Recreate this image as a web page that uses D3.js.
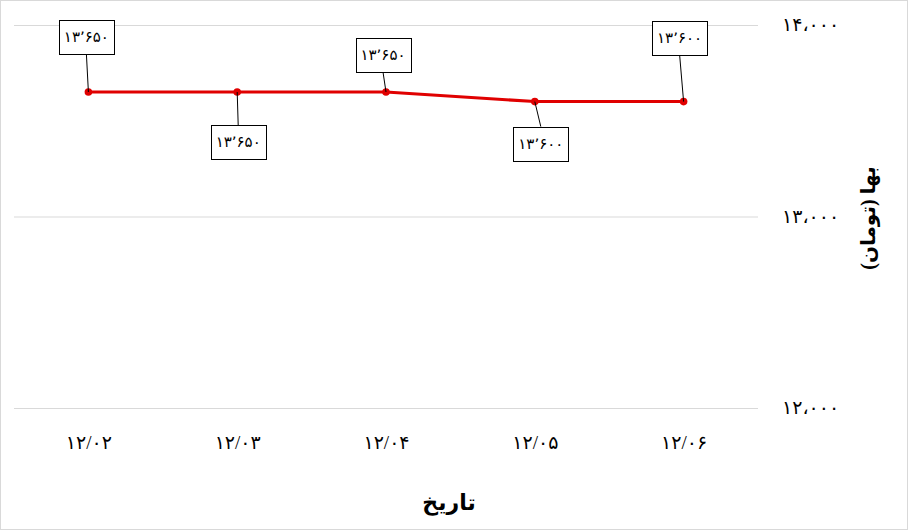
<!DOCTYPE html>
<html>
<head>
<meta charset="utf-8">
<script src="https://cdn.jsdelivr.net/npm/d3@7"></script>
<style>
    body { margin: 0; background: #fff; }
    svg text { font-family: 'B Nazanin', 'Times New Roman', 'Liberation Serif', 'DejaVu Sans', serif; fill: #000; }
</style>
</head>
<body>
<div id="chart"></div>
<script>
// data
var dates = ['12/02', '12/03', '12/04', '12/05', '12/06'];
var prices = [13650, 13650, 13650, 13600, 13600];
var y_ticks = [12000, 13000, 14000];
var y_domain = [12000, 14000];

// label placement (offset of label box centre from its point, px)
var label_dx = [-2, 1, -3, 6, -4];
var label_dy = [-55, 50, -37, 42, -64];

var svg_size = { 'width': 908, 'height': 530 };
var plot = { 'left': 14, 'right': 758, 'top': 25, 'bottom': 408 };
var line_color = '#e00000';

function toFa(s){
    return String(s).replace(/\d/g, function(d){ return '۰۱۲۳۴۵۶۷۸۹'[+d]; });
}

var svg = d3.select('#chart')
    .append('svg')
    .attr('width', svg_size.width)
    .attr('height', svg_size.height);

// outer border
svg.append('rect')
    .attr('x', 0.5).attr('y', 0.5)
    .attr('width', svg_size.width - 1)
    .attr('height', svg_size.height - 1)
    .style('fill', '#fff')
    .style('stroke', '#d9d9d9');

var x_scale = d3.scalePoint()
    .domain(dates)
    .range([plot.left, plot.right])
    .padding(0.5);

var y_scale = d3.scaleLinear()
    .domain(y_domain)
    .range([plot.bottom, plot.top]);

// grid lines
var grid = svg.append('g')
    .attr('transform', 'translate(' + plot.left + ',0)')
    .call(d3.axisLeft(y_scale)
        .tickValues(y_ticks)
        .tickFormat('')
        .tickSizeInner(-(plot.right - plot.left))
        .tickSizeOuter(0));
grid.select('.domain').remove();
grid.selectAll('line').style('stroke', '#d9d9d9');

// y axis labels (right side)
var y_axis = svg.append('g')
    .attr('transform', 'translate(782,0)')
    .call(d3.axisRight(y_scale)
        .tickValues(y_ticks)
        .tickSize(0)
        .tickPadding(0)
        .tickFormat(function(d){ return toFa(d3.format(',')(d)).replace(/,/g, '،'); }));
y_axis.select('.domain').remove();
y_axis.selectAll('text')
    .attr('x', 0)
    .attr('dy', '0.3em')
    .attr('text-anchor', 'start')
    .style('font-size', '19px');

// x axis labels
var x_axis = svg.append('g')
    .attr('transform', 'translate(0,' + plot.bottom + ')')
    .call(d3.axisBottom(x_scale)
        .tickSize(0)
        .tickFormat(function(d){ return toFa(d); }));
x_axis.select('.domain').remove();
x_axis.selectAll('text')
    .attr('y', 34)
    .attr('dy', '0.35em')
    .style('font-size', '19px');

// axis titles
svg.append('text')
    .attr('x', 449)
    .attr('y', 502)
    .attr('text-anchor', 'middle')
    .attr('dominant-baseline', 'central')
    .style('font-size', '22px')
    .style('font-weight', 'bold')
    .text('تاریخ');

svg.append('text')
    .attr('transform', 'translate(868,218) rotate(-90)')
    .attr('text-anchor', 'middle')
    .attr('dominant-baseline', 'central')
    .style('font-size', '20px')
    .style('font-weight', 'bold')
    .text('بها (تومان)');

// line
var line = d3.line()
    .x(function(d, i){ return x_scale(dates[i]); })
    .y(function(d){ return y_scale(d); });

svg.append('path')
    .datum(prices)
    .attr('d', line)
    .style('fill', 'none')
    .style('stroke', line_color)
    .style('stroke-width', 3);

svg.selectAll('.point')
    .data(prices)
    .enter()
    .append('circle')
    .classed('point', true)
    .attr('cx', function(d, i){ return x_scale(dates[i]); })
    .attr('cy', function(d){ return y_scale(d); })
    .attr('r', 3.8)
    .style('fill', line_color);

// data labels with leader lines
var box_w = 55, box_h = 34;

var labels = svg.selectAll('.data-label')
    .data(prices)
    .enter()
    .append('g')
    .classed('data-label', true);

labels.append('line')
    .attr('x1', function(d, i){ return x_scale(dates[i]); })
    .attr('y1', function(d){ return y_scale(d); })
    .attr('x2', function(d, i){ return x_scale(dates[i]) + label_dx[i]; })
    .attr('y2', function(d, i){
        var cy = y_scale(d) + label_dy[i];
        return label_dy[i] < 0 ? cy + box_h/2 : cy - box_h/2;
    })
    .style('stroke', '#000')
    .style('stroke-width', 1);

labels.append('rect')
    .attr('x', function(d, i){ return Math.round(x_scale(dates[i]) + label_dx[i] - box_w/2) + 0.5; })
    .attr('y', function(d, i){ return Math.round(y_scale(d) + label_dy[i] - box_h/2) + 0.5; })
    .attr('width', box_w)
    .attr('height', box_h)
    .style('fill', '#fff')
    .style('stroke', '#000')
    .style('stroke-width', 1);

labels.append('text')
    .attr('x', function(d, i){ return x_scale(dates[i]) + label_dx[i]; })
    .attr('y', function(d, i){ return y_scale(d) + label_dy[i]; })
    .attr('text-anchor', 'middle')
    .attr('dominant-baseline', 'central')
    .style('font-size', '15px')
    .text(function(d){ return toFa(d3.format(',')(d)).replace(/,/g, '٬'); });
</script>
</body>
</html>
